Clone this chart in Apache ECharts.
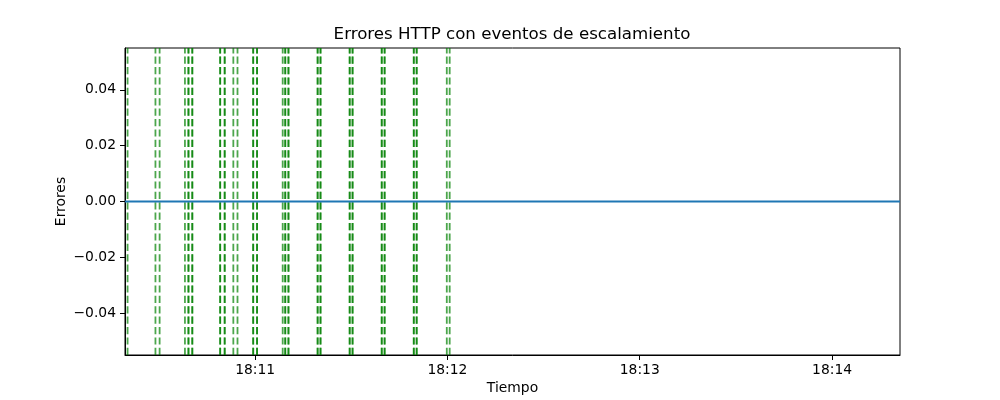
<!DOCTYPE html>
<html><head><meta charset="utf-8">
<script src="https://cdn.jsdelivr.net/npm/echarts@6/dist/echarts.min.js"></script>
<style>html,body{margin:0;padding:0;background:#fff}#c{width:1000px;height:400px}</style>
</head><body><div id="c"></div>
<script>
const chartTitle = 'Errores HTTP con eventos de escalamiento';
const xName = 'Tiempo';
const yName = 'Errores';
const errorTimes = ['18:10:19.4', '18:14:21.2'];
const errorValues = [0, 0];
const eventTimes = [
  '18:10:20.2',
  '18:10:28.9', '18:10:30.2',
  '18:10:38.1', '18:10:39.2', '18:10:39.2', '18:10:40.4', '18:10:40.4',
  '18:10:49.1', '18:10:49.1', '18:10:50.5', '18:10:50.5',
  '18:10:53.2', '18:10:54.5',
  '18:10:59.4', '18:10:59.4', '18:11:00.6', '18:11:00.6',
  '18:11:08.6', '18:11:09.4', '18:11:09.4', '18:11:10.4', '18:11:10.4',
  '18:11:19.5', '18:11:19.5', '18:11:20.4', '18:11:20.4',
  '18:11:29.5', '18:11:29.5', '18:11:30.4', '18:11:30.4',
  '18:11:39.5', '18:11:39.5', '18:11:40.4', '18:11:40.4',
  '18:11:49.5', '18:11:49.5', '18:11:50.4', '18:11:50.4',
  '18:11:59.8', '18:12:00.7'
];
const xTickLabels = ['18:11', '18:12', '18:13', '18:14'];
const yTicks = [-0.04, -0.02, 0, 0.02, 0.04];
const xRange = ['18:10:19.4', '18:14:21.2'];
const yRange = [-0.055, 0.055];

function toSec(s) { const p = s.split(':'); return (+p[0]) * 3600 + (+p[1]) * 60 + (p[2] ? +p[2] : 0); }
function fmtTime(v) { v = Math.round(v); const h = Math.floor(v / 3600), m = Math.floor((v % 3600) / 60); return h + ':' + String(m).padStart(2, '0'); }
function fmtY(v) { const s = Math.abs(v).toFixed(2); return (v < -1e-9 ? '\u2212' : '') + s; }

const FONT = 'DejaVu Sans';
const chart = echarts.init(document.getElementById('c'), null, { renderer: 'canvas' });
chart.setOption({
  animation: false,
  backgroundColor: '#fff',
  textStyle: { fontFamily: FONT },
  title: {
    text: chartTitle, left: 507, top: 21, textAlign: 'center',
    textStyle: { fontFamily: FONT, fontSize: 16.67, fontWeight: 'normal', color: '#000' }
  },
  grid: { left: 125, right: 100, top: 48, bottom: 45, show: true, borderColor: '#000', borderWidth: 1, backgroundColor: 'transparent' },
  xAxis: {
    type: 'value', min: toSec(xRange[0]), max: toSec(xRange[1]),
    name: xName, nameLocation: 'middle', nameGap: 26, nameMoveOverlap: false,
    nameTextStyle: { fontFamily: FONT, fontSize: 13.89, color: '#000' },
    axisLine: { show: true, onZero: false, lineStyle: { color: '#000', width: 1 } },
    axisTick: { show: true, length: 5, customValues: xTickLabels.map(toSec), lineStyle: { color: '#000', width: 1 } },
    axisLabel: { customValues: xTickLabels.map(toSec), formatter: fmtTime, fontFamily: FONT, fontSize: 13.89, color: '#000', margin: 8 },
    splitLine: { show: false }
  },
  yAxis: {
    type: 'value', min: yRange[0], max: yRange[1],
    name: yName, nameLocation: 'middle', nameGap: 57, nameRotate: 90, nameMoveOverlap: false,
    nameTextStyle: { fontFamily: FONT, fontSize: 13.89, color: '#000' },
    axisLine: { show: true, lineStyle: { color: '#000', width: 1 } },
    axisTick: { show: true, length: 5, customValues: yTicks, lineStyle: { color: '#000', width: 1 } },
    axisLabel: { customValues: yTicks, formatter: fmtY, fontFamily: FONT, fontSize: 13.89, color: '#000', margin: 9 },
    splitLine: { show: false }
  },
  series: [
    {
      type: 'custom', name: 'eventos', z: 2, clip: true,
      data: eventTimes.map(t => [toSec(t), 0]),
      encode: { x: 0, y: 1 },
      renderItem: function (params, api) {
        const x = api.coord([api.value(0), 0])[0];
        const cs = params.coordSys;
        return {
          type: 'line',
          shape: { x1: x, y1: cs.y + cs.height, x2: x, y2: cs.y },
          style: { stroke: 'rgba(0,128,0,0.7)', lineWidth: 1.8, lineDash: [7.2, 3.2] }
        };
      }
    },
    {
      type: 'line', name: 'errores', z: 3,
      data: errorTimes.map((t, i) => [toSec(t), errorValues[i]]),
      showSymbol: false, symbol: 'none',
      lineStyle: { color: '#1f77b4', width: 2.08 },
      itemStyle: { color: '#1f77b4' }
    }
  ]
});
</script>
</body></html>
